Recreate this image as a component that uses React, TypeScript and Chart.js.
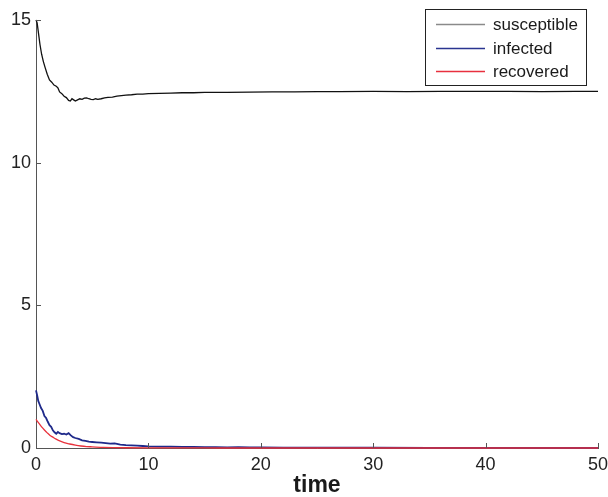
import React, { useEffect, useRef } from "react";
import { Chart, registerables } from "chart.js";

Chart.register(...registerables);

const FONT = "'Liberation Sans', Arial, Helvetica, sans-serif";

const seriesLabels = ["susceptible", "infected", "recovered"];

const susceptibleTime = [
  0, 0.1, 0.2, 0.35, 0.5, 0.65, 0.8, 1.0, 1.2, 1.4,
  1.6, 1.8, 1.95, 2.1, 2.3, 2.5, 2.7, 2.9, 3.05, 3.2,
  3.35, 3.5, 3.7, 3.9, 4.1, 4.3, 4.5, 4.7, 4.9, 5.1,
  5.3, 5.5, 5.8, 6.1, 6.4, 6.8, 7.2, 7.6, 8.0, 8.5,
  9, 9.5, 10, 11, 12, 13, 14, 15, 17, 19,
  21, 23, 25, 27, 30, 33, 36, 39, 42, 45,
  48, 50,
];
const susceptibleValues = [
  15, 14.9, 14.6, 14.15, 13.8, 13.55, 13.35, 13.1, 12.9, 12.82,
  12.72, 12.68, 12.62, 12.48, 12.42, 12.33, 12.28, 12.18, 12.16, 12.24,
  12.2, 12.16, 12.2, 12.24, 12.22, 12.26, 12.27, 12.24, 12.22, 12.21,
  12.24, 12.22, 12.24, 12.27, 12.29, 12.3, 12.33, 12.35, 12.37, 12.38,
  12.4, 12.4, 12.42, 12.43, 12.44, 12.45, 12.45, 12.46, 12.46, 12.47,
  12.48, 12.48, 12.49, 12.49, 12.5, 12.49, 12.5, 12.5, 12.5, 12.49,
  12.5, 12.5,
];

const infectedTime = [
  0, 0.1, 0.2, 0.3, 0.45, 0.6, 0.75, 0.9, 1.05, 1.2,
  1.35, 1.5, 1.65, 1.8, 1.95, 2.1, 2.3, 2.5, 2.7, 2.9,
  3.1, 3.3, 3.5, 3.8, 4.1, 4.4, 4.7, 5.0, 5.4, 5.8,
  6.2, 6.6, 7.0, 7.5, 8.0, 8.5, 9.0, 9.5, 10, 11,
  12, 13, 14, 15, 16, 17, 18, 19, 20, 22,
  25, 30, 35, 40, 45, 50,
];
const infectedValues = [
  2.02, 1.85, 1.65, 1.55, 1.4, 1.3, 1.12, 1.05, 0.92, 0.8,
  0.74, 0.62, 0.55, 0.5, 0.56, 0.52, 0.49, 0.5, 0.47, 0.52,
  0.44, 0.38, 0.35, 0.32, 0.27, 0.25, 0.22, 0.21, 0.2, 0.19,
  0.17, 0.15, 0.16, 0.12, 0.1, 0.09, 0.08, 0.07, 0.06, 0.05,
  0.05, 0.04, 0.04, 0.03, 0.03, 0.02, 0.03, 0.02, 0.02, 0.01,
  0.01, 0.01, 0.005, 0.005, 0, 0,
];

const recoveredTime = [
  0, 0.25, 0.5, 0.75, 1.0, 1.25, 1.5, 1.75, 2.0, 2.5,
  3, 3.5, 4, 4.5, 5, 6, 7, 8, 10, 15,
  20, 30, 40, 50,
];
const recoveredValues = [
  1.0, 0.87, 0.74, 0.63, 0.53, 0.44, 0.38, 0.32, 0.27, 0.19,
  0.14, 0.1, 0.07, 0.05, 0.04, 0.02, 0.012, 0.008, 0.004, 0.001,
  0, 0, 0, 0,
];

const xTicks = [0, 10, 20, 30, 40, 50];
const yTicks = [0, 5, 10, 15];

const lineColors = ["#111111", "#1f2a8a", "#e8323c"];
const legendColors = ["#8a8a8a", "#2a3490", "#e8303e"];

const toPoints = (t: number[], v: number[]) => t.map((x, i) => ({ x, y: v[i] }));

const decorPlugin = {
  id: "decor",
  afterDraw(chart: any) {
    const { ctx, scales } = chart;
    const xs = scales.x;
    const ys = scales.y;
    const area = chart.chartArea;
    ctx.save();
    // inward ticks
    ctx.strokeStyle = "#555";
    ctx.lineWidth = 1;
    ctx.beginPath();
    xTicks.forEach((t) => {
      if (t === 0) return;
      const px = Math.round(xs.getPixelForValue(t)) + 0.5;
      ctx.moveTo(px, area.bottom);
      ctx.lineTo(px, area.bottom - 5);
    });
    yTicks.forEach((t) => {
      if (t === 0) return;
      const py = Math.round(ys.getPixelForValue(t)) + 0.5;
      ctx.moveTo(area.left, py);
      ctx.lineTo(area.left + 5, py);
    });
    ctx.stroke();

    // legend box
    const bx = 425.5, by = 9.5, bw = 161, bh = 76;
    ctx.fillStyle = "#ffffff";
    ctx.fillRect(bx, by, bw, bh);
    ctx.strokeStyle = "#222";
    ctx.lineWidth = 1;
    ctx.strokeRect(bx, by, bw, bh);
    const rows = [24, 48, 71];
    ctx.font = `17px ${FONT}`;
    ctx.textBaseline = "middle";
    ctx.textAlign = "left";
    seriesLabels.forEach((label, i) => {
      const y = rows[i] + 0.5;
      ctx.strokeStyle = legendColors[i];
      ctx.lineWidth = 1.4;
      ctx.beginPath();
      ctx.moveTo(436, y);
      ctx.lineTo(485, y);
      ctx.stroke();
      ctx.fillStyle = "#1a1a1a";
      ctx.fillText(label, 493, rows[i] + 1);
    });
    ctx.restore();
  },
};

export default function App() {
  const ref = useRef<HTMLCanvasElement | null>(null);
  useEffect(() => {
    if (!ref.current) return;
    const chart = new Chart(ref.current, {
      type: "line",
      data: {
        datasets: [
          {
            label: seriesLabels[0],
            data: toPoints(susceptibleTime, susceptibleValues),
            borderColor: lineColors[0],
            borderWidth: 1.3,
            pointRadius: 0,
            tension: 0,
            clip: false,
            order: 2,
          },
          {
            label: seriesLabels[1],
            data: toPoints(infectedTime, infectedValues),
            borderColor: lineColors[1],
            borderWidth: 1.8,
            pointRadius: 0,
            tension: 0,
            clip: false,
            order: 1,
          },
          {
            label: seriesLabels[2],
            data: toPoints(recoveredTime, recoveredValues),
            borderColor: lineColors[2],
            borderWidth: 1.3,
            pointRadius: 0,
            cubicInterpolationMode: "monotone",
            clip: false,
            order: 0,
          },
        ] as any,
      },
      options: {
        responsive: false,
        animation: false,
        layout: { padding: { top: 20, right: 10, left: 0, bottom: 0 } },
        plugins: {
          legend: { display: false },
          tooltip: { enabled: false },
        },
        scales: {
          x: {
            type: "linear",
            min: 0,
            max: 50,
            afterFit: (s: any) => {
              s.height = 49;
              s.paddingLeft = 0;
              s.paddingRight = 0;
            },
            afterBuildTicks: (s: any) => {
              s.ticks = xTicks.map((v) => ({ value: v }));
            },
            grid: { display: false, drawTicks: false },
            border: { display: true, color: "#555", width: 1 },
            ticks: {
              padding: 6,
              color: "#222",
              font: { family: FONT, size: 18 },
              maxRotation: 0,
            },
            title: {
              display: true,
              text: "time",
              color: "#1a1a1a",
              font: { family: FONT, size: 23, weight: "bold" },
              padding: { top: 0, bottom: -2 },
            },
          },
          y: {
            type: "linear",
            min: 0,
            max: 15,
            afterFit: (s: any) => {
              s.width = 36;
              s.paddingTop = 0;
              s.paddingBottom = 0;
            },
            afterBuildTicks: (s: any) => {
              s.ticks = yTicks.map((v) => ({ value: v }));
            },
            grid: { display: false, drawTicks: false },
            border: { display: true, color: "#555", width: 1 },
            ticks: {
              padding: 5,
              color: "#222",
              font: { family: FONT, size: 18 },
            },
          },
        },
      } as any,
      plugins: [decorPlugin],
    });
    return () => chart.destroy();
  }, []);
  return (
    <div style={{ position: "absolute", left: 0, top: 0, width: 608, height: 497, background: "#fff" }}>
      <canvas ref={ref} width={608} height={497} style={{ width: 608, height: 497, display: "block" }} />
    </div>
  );
}
